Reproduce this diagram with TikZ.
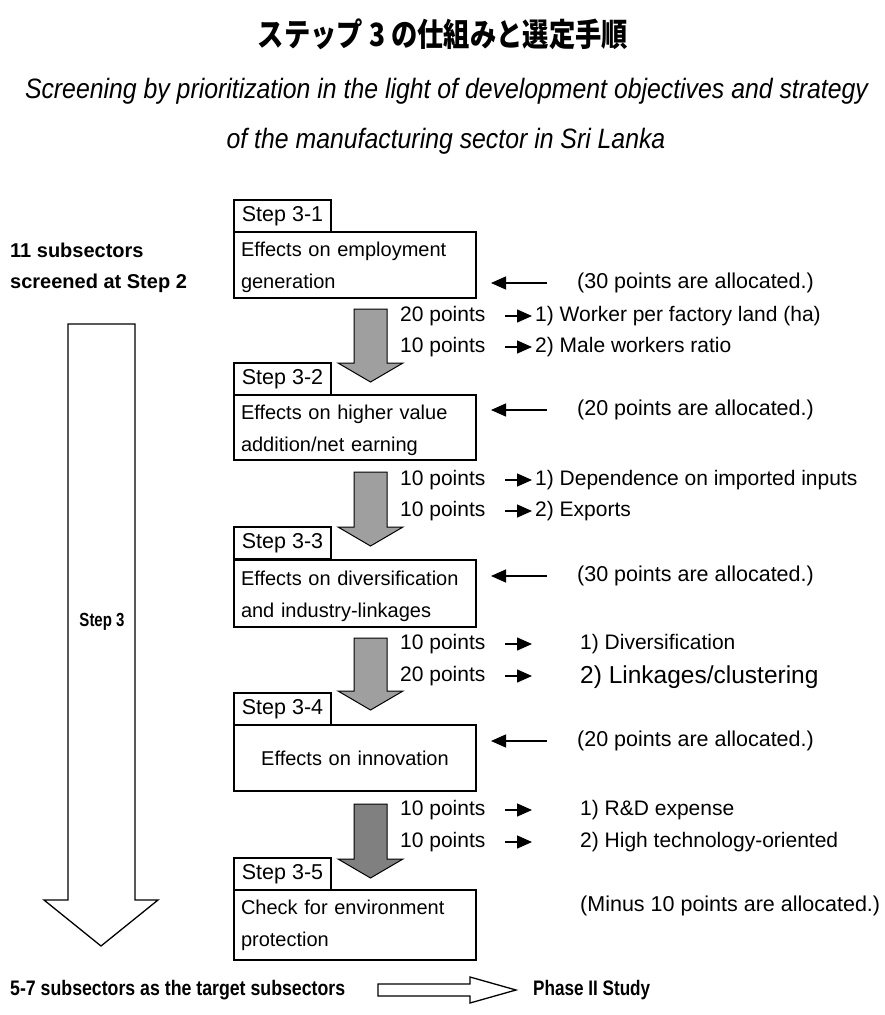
\documentclass[tikz,border=0pt]{standalone}
\usepackage{fontspec}
\setmainfont{Liberation Sans}
\newfontfamily\cjk{Noto Sans CJK JP}
\usetikzlibrary{arrows.meta,calc}

% downward grey block arrow: #1 top y, #2 tip y, #3 fill colour
\newcommand\blockdown[3]{%
  \filldraw[fill=#3, draw=black, line width=1pt]
    (354,#1) -- (387,#1) -- (387,#2-19) -- (403,#2-19) -- (370.5,#2)
    -- (338,#2-19) -- (354,#2-19) -- cycle;}

% subtitle lines, condensed by one common factor
\newcommand\subfont{\itshape\fontsize{28}{32}\selectfont}
\newcommand\subone{Screening by prioritization in the light of development objectives and strategy}
\newcommand\subtwo{of the manufacturing sector in Sri Lanka}
\newlength\sublen
\newcommand\topstrut{\rule{0pt}{20pt}}

\begin{document}
\settowidth\sublen{\subfont\subone}
\begin{tikzpicture}[x=1pt,y=-1pt,
  stepbox/.style={draw, line width=2pt, minimum width=97pt, minimum height=32pt,
    inner sep=0pt, outer sep=0pt, anchor=north west, font=\fontsize{21.5}{24}\selectfont},
  mainbox/.style={draw, line width=2.5pt, minimum width=242pt, text width=228pt,
    inner xsep=7pt, inner ysep=0pt, outer sep=0pt, align=left, anchor=north west,
    font=\fontsize{20}{32}\selectfont},
  pts/.style={anchor=west, inner sep=0pt, font=\fontsize{21}{25}\selectfont},
  item/.style={anchor=west, inner sep=0pt, font=\fontsize{21}{25}\selectfont},
  alloc/.style={anchor=west, inner sep=0pt, font=\fontsize{21.5}{25}\selectfont},
  sidebold/.style={anchor=west, inner sep=0pt, font=\bfseries\fontsize{20}{24}\selectfont},
  leftarr/.style={-{Triangle[length=15pt,width=13pt]}, line width=1.4pt},
  smallarr/.style={-{Triangle[length=15pt,width=13pt]}, line width=1.4pt},
  hollow/.style={draw=black, fill=white, line width=1.3pt},
]
\useasboundingbox (0,0) rectangle (885,1015);
\pgfmathsetmacro\subfac{843/\sublen}

% headings
\node[anchor=base, inner sep=0pt] (title) at (443,46)
  {\resizebox{370pt}{\height}{\cjk\bfseries\fontsize{32}{36}\selectfont ステップ 3 の仕組みと選定手順}};
\node[anchor=base, inner sep=0pt] (sub1) at (446.5,98)
  {\scalebox{\subfac}[1]{\subfont\subone}};
\node[anchor=base, inner sep=0pt] (sub2) at (446,148)
  {\scalebox{\subfac}[1]{\subfont\subtwo}};

% left column
\node[sidebold] (in1) at (10,250) {11 subsectors};
\node[sidebold] (in2) at (10,283) {screened at Step 2};
\draw[hollow] (68,324) -- (135,324) -- (135,900) -- (158,900) -- (101,946)
  -- (44,900) -- (68,900) -- cycle;
\node[inner sep=0pt] (st3) at (102,622)
  {\resizebox{45pt}{\height}{\bfseries\fontsize{19}{22}\selectfont Step 3}};

% step 3-1
\node[stepbox] (s1) at (234,200) {Step 3-1};
\node[mainbox, minimum height=66pt] (m1) at (234,232) {\topstrut Effects on employment\\generation};
\node[alloc] (a1) at (577,283) {(30 points are allocated.)};
\draw[leftarr] (547,0 |- a1.west) -- (491,0 |- a1.west);
\blockdown{309}{382}{gray!75}
\node[pts] (p1a) at (400,316) {20 points};
\node[pts] (p1b) at (400,347) {10 points};
\node[item] (i1a) at (535,316) {1) Worker per factory land (ha)};
\node[item] (i1b) at (535,347) {2) Male workers ratio};
\draw[smallarr] (505,0 |- p1a.west) -- (532,0 |- p1a.west);
\draw[smallarr] (505,0 |- p1b.west) -- (532,0 |- p1b.west);

% step 3-2
\node[stepbox] (s2) at (234,363) {Step 3-2};
\node[mainbox, minimum height=65pt] (m2) at (234,395) {\topstrut Effects on higher value\\addition/net earning};
\node[alloc] (a2) at (577,410) {(20 points are allocated.)};
\draw[leftarr] (547,0 |- a2.west) -- (491,0 |- a2.west);
\blockdown{472}{546}{gray!75}
\node[pts] (p2a) at (400,480) {10 points};
\node[pts] (p2b) at (400,511) {10 points};
\node[item] (i2a) at (535,480) {1) Dependence on imported inputs};
\node[item] (i2b) at (535,511) {2) Exports};
\draw[smallarr] (505,0 |- p2a.west) -- (532,0 |- p2a.west);
\draw[smallarr] (505,0 |- p2b.west) -- (532,0 |- p2b.west);

% step 3-3
\node[stepbox] (s3) at (234,527) {Step 3-3};
\node[mainbox, minimum height=67pt] (m3) at (234,560) {\topstrut Effects on diversification\\and industry-linkages};
\node[alloc] (a3) at (577,576) {(30 points are allocated.)};
\draw[leftarr] (547,0 |- a3.west) -- (491,0 |- a3.west);
\blockdown{638}{710}{gray!75}
\node[pts] (p3a) at (400,644) {10 points};
\node[pts] (p3b) at (400,676) {20 points};
\node[item] (i3a) at (580,644) {1) Diversification};
\node[item, font=\fontsize{24.5}{28}\selectfont] (i3b) at (580,677) {2) Linkages/clustering};
\draw[smallarr] (505,0 |- p3a.west) -- (532,0 |- p3a.west);
\draw[smallarr] (505,0 |- p3b.west) -- (532,0 |- p3b.west);

% step 3-4
\node[stepbox] (s4) at (234,693) {Step 3-4};
\node[mainbox, minimum height=66pt, align=center] (m4) at (234,725) {Effects on innovation};
\node[alloc] (a4) at (577,741) {(20 points are allocated.)};
\draw[leftarr] (547,0 |- a4.west) -- (491,0 |- a4.west);
\blockdown{804}{878}{gray}
\node[pts] (p4a) at (400,810) {10 points};
\node[pts] (p4b) at (400,842) {10 points};
\node[item] (i4a) at (580,810) {1) R\&D expense};
\node[item] (i4b) at (580,842) {2) High technology-oriented};
\draw[smallarr] (505,0 |- p4a.west) -- (532,0 |- p4a.west);
\draw[smallarr] (505,0 |- p4b.west) -- (532,0 |- p4b.west);

% step 3-5
\node[stepbox] (s5) at (234,858) {Step 3-5};
\node[mainbox, minimum height=70pt] (m5) at (234,890) {Check for environment\\protection};
\node[alloc] (a5) at (580,906) {(Minus 10 points are allocated.)};

% result
\node[anchor=west, inner sep=0pt] (out) at (10,990)
  {\resizebox{335pt}{\height}{\bfseries\fontsize{21}{24}\selectfont 5-7 subsectors as the target subsectors}};
\node[anchor=west, inner sep=0pt] (ph2) at (533,990)
  {\resizebox{117pt}{\height}{\bfseries\fontsize{21}{24}\selectfont Phase II Study}};
\draw[hollow] (378,984) -- (470,984) -- (470,977) -- (516,990) -- (470,1003)
  -- (470,996) -- (378,996) -- cycle;
\end{tikzpicture}
\end{document}
